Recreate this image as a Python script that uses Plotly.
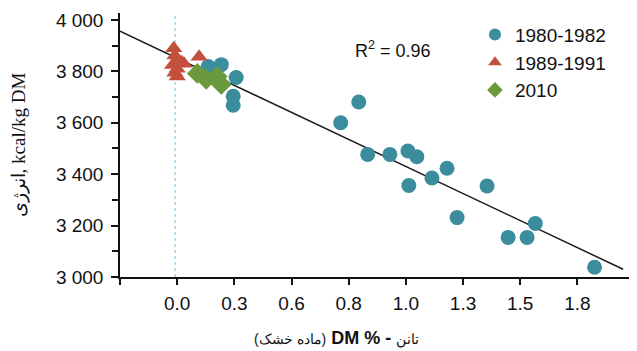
import plotly.graph_objects as go

# ---- data ----
series_names = ["1980-1982", "1989-1991", "2010"]

blue_x = [0.136, 0.193, 0.165, 0.258, 0.245, 0.245, 0.715, 0.794, 0.833, 0.93, 1.009, 1.048,
          1.18, 1.114, 1.013, 1.355, 1.224, 1.447, 1.53, 1.566, 1.825]
blue_y = [3819, 3826, 3800, 3776, 3703, 3668, 3600, 3681, 3477, 3477, 3490, 3468,
          3423, 3385, 3356, 3354, 3231, 3154, 3154, 3208, 3038]

red_x = [-0.015, -0.01, 0.0, 0.02, -0.02, 0.03, 0.0, -0.01, 0.0, 0.096]
red_y = [3890, 3862, 3845, 3835, 3825, 3830, 3810, 3795, 3780, 3857]

green_x = [0.088, 0.127, 0.175, 0.193]
green_y = [3792, 3769, 3780, 3749]

fit_intercept = 3851
fit_slope = -421
fit_x_range = [-0.25, 1.95]
r2_text = "R<sup>2</sup> = 0.96"

x_tickvals = [-0.25, 0.0, 0.25, 0.5, 0.75, 1.0, 1.25, 1.5, 1.75]
x_ticktext = ["", "0.0", "0.3", "0.6", "0.8", "1.0", "1.3", "1.5", "1.8"]
y_tickvals = [3000, 3200, 3400, 3600, 3800, 4000]
y_ticktext = ["3 000", "3 200", "3 400", "3 600", "3 800", "4 000"]

ref_line_x = -0.009

# ---- figure ----
C_BLUE = "#3b8d9e"
C_RED = "#c2503d"
C_GREEN = "#6a9a3c"
FONT = "Liberation Sans, Arial, sans-serif"

fig = go.Figure()

fit_y = [fit_intercept + fit_slope * v for v in fit_x_range]
fig.add_trace(go.Scatter(x=fit_x_range, y=fit_y, mode="lines",
                         line=dict(color="#1a1a1a", width=1.5),
                         showlegend=False, hoverinfo="skip"))

fig.add_trace(go.Scatter(x=blue_x, y=blue_y, mode="markers", name=series_names[0],
                         marker=dict(symbol="circle", size=15, color=C_BLUE)))
fig.add_trace(go.Scatter(x=red_x, y=red_y, mode="markers", name=series_names[1],
                         marker=dict(symbol="triangle-up", size=15, color=C_RED)))
fig.add_trace(go.Scatter(x=green_x, y=green_y, mode="markers", name=series_names[2],
                         marker=dict(symbol="diamond", size=16, color=C_GREEN)))

fig.add_shape(type="line", xref="x", yref="paper", x0=ref_line_x, x1=ref_line_x, y0=0, y1=1,
              line=dict(color="#9fd6f2", width=1.5, dash="dot"), layer="below")

fig.add_annotation(xref="paper", yref="paper", x=0.535, y=0.913, text=r2_text,
                   showarrow=False, font=dict(family=FONT, size=18, color="#111"))

fig.add_annotation(xref="paper", yref="paper", x=0.424, y=-0.23, yanchor="middle",
                   text="<span style='font-size:14px'>(ماده خشک)</span> <b>DM %</b> <b>-</b> "
                        "<span style='font-size:14px'>تانن</span>",
                   showarrow=False, font=dict(family=FONT, size=18, color="#111"))

# the page adds an 8px body margin, so the figure is 8px smaller than the window
fig.update_layout(
    width=629, height=343,
    margin=dict(l=112, r=7, t=2, b=74),
    paper_bgcolor="white", plot_bgcolor="white",
    font=dict(family=FONT, size=19, color="#111"),
    legend=dict(x=0.696, y=0.99, xanchor="left", yanchor="top",
                traceorder="normal", font=dict(size=19), bgcolor="rgba(0,0,0,0)",
                itemsizing="constant", tracegroupgap=0),
)

fig.update_xaxes(range=[-0.25, 1.98], showgrid=False, zeroline=False,
                 showline=True, linecolor="#111", linewidth=1.5,
                 ticks="outside", ticklen=6, tickwidth=1.5, tickcolor="#111",
                 tickvals=x_tickvals, ticktext=x_ticktext, ticklabeloverflow="allow",
                 ticklabelstandoff=2)
fig.update_yaxes(range=[3000, 4027], showgrid=False, zeroline=False,
                 showline=True, linecolor="#111", linewidth=1.5,
                 ticks="outside", ticklen=7, tickwidth=1.5, tickcolor="#111",
                 tickvals=y_tickvals, ticktext=y_ticktext, ticklabeloverflow="allow",
                 ticklabelstandoff=4,
                 minor=dict(ticks="outside", ticklen=6, tickwidth=1.5, tickcolor="#111", dtick=100,
                            showgrid=False),
                 title=dict(text="انرژی, kcal/kg DM", standoff=26,
                            font=dict(family="Liberation Serif, Times New Roman, serif", size=19)))

fig.write_html("out.html")
